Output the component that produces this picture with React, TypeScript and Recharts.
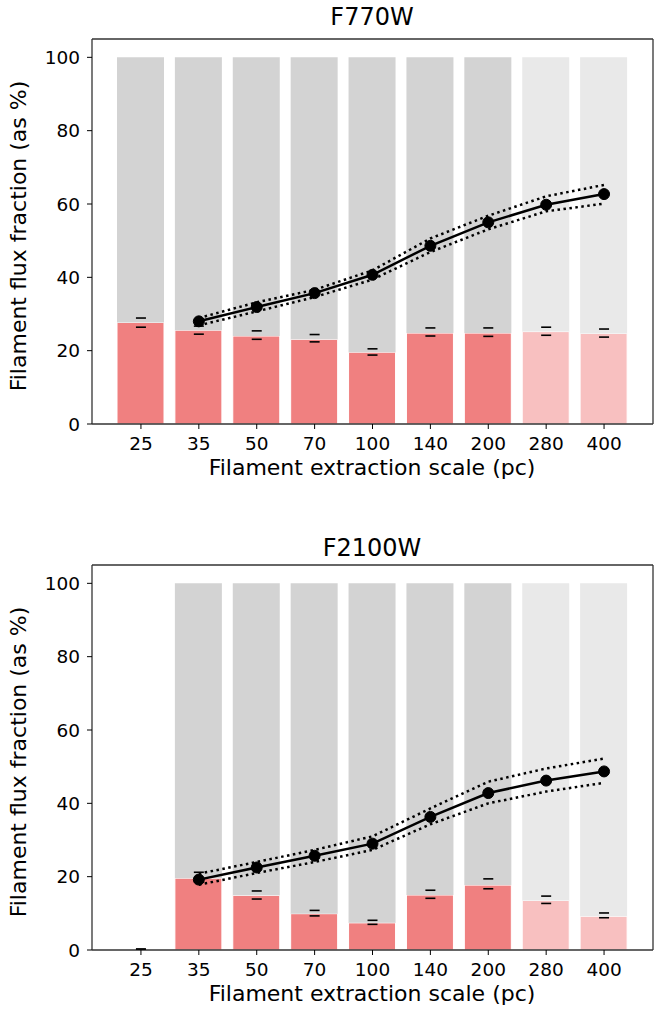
import {
  Bar,
  Cell,
  ComposedChart,
  Line,
  XAxis,
  YAxis
} from "recharts";

const scales = ["25", "35", "50", "70", "100", "140", "200", "280", "400"];
const faded = [false, false, false, false, false, false, false, true, true];
const yTicks = [0, 20, 40, 60, 80, 100];

// F770W
const f770Fil = [27.7, 25.6, 24.0, 23.1, 19.6, 24.8, 24.8, 25.2, 24.7];
const f770CapHi = [28.9, 26.7, 25.4, 24.4, 20.5, 26.2, 26.2, 26.4, 25.9];
const f770CapLo = [26.4, 24.5, 23.1, 22.4, 18.8, 24.0, 23.9, 24.2, 23.7];
const f770Mean = [null, 28.0, 31.9, 35.7, 40.7, 48.6, 55.0, 59.8, 62.7];
const f770Upper = [null, 28.9, 33.2, 36.6, 41.9, 50.6, 56.8, 62.1, 65.2];
const f770Lower = [null, 26.9, 30.7, 34.6, 39.4, 46.9, 53.1, 58.0, 60.1];

// F2100W
const f2100Fil = [0, 19.6, 14.9, 9.9, 7.4, 15.0, 17.7, 13.5, 9.2];
const f2100CapHi = [0.3, 21.2, 16.1, 10.8, 8.1, 16.3, 19.4, 14.7, 10.1];
const f2100CapLo = [0, 18.6, 13.9, 9.3, 7.0, 14.1, 16.7, 12.7, 8.8];
const f2100Mean = [null, 19.2, 22.5, 25.7, 29.0, 36.3, 42.8, 46.2, 48.7];
const f2100Upper = [null, 20.8, 24.0, 27.3, 31.0, 38.6, 45.9, 49.5, 52.2];
const f2100Lower = [null, 17.8, 21.0, 24.0, 27.3, 34.3, 40.0, 43.2, 45.6];

const FONT = "'DejaVu Sans', sans-serif";
const RED = "#f08080";
const PINK = "#f8c0c0";
const GREY = "#d3d3d3";
const LIGHT_GREY = "#e9e9e9";
const SPINE = { stroke: "#333", strokeWidth: 1.3 };

type Row = {
  scale: string;
  fil: number;
  rest: number | null;
  capHi: number;
  capLo: number;
  mean: number | null;
  upper: number | null;
  lower: number | null;
};

function buildRows(
  fil: number[],
  capHi: number[],
  capLo: number[],
  mean: (number | null)[],
  upper: (number | null)[],
  lower: (number | null)[]
): Row[] {
  return scales.map((scale, i) => ({
    scale,
    fil: fil[i],
    rest: mean[i] === null && fil[i] === 0 ? null : 100 - fil[i],
    capHi: capHi[i],
    capLo: capLo[i],
    mean: mean[i],
    upper: upper[i],
    lower: lower[i]
  }));
}

const renderCap = (props: any) => {
  const { cx, cy, index } = props;
  if (cx == null || cy == null) return <g key={`c-${index}`} />;
  return (
    <line
      key={`c-${index}`}
      x1={cx - 5}
      x2={cx + 5}
      y1={cy}
      y2={cy}
      stroke="#000"
      strokeWidth={1.6}
    />
  );
};

type PanelProps = {
  title: string;
  rows: Row[];
  top: number;
};

function Panel({ title, rows, top }: PanelProps) {
  const tick = { fontSize: 18.5, fill: "#000", fontFamily: FONT };
  return (
    <div style={{ position: "absolute", left: 0, top, width: 657, height: 500 }}>
      <div
        style={{
          position: "absolute",
          left: 372,
          top: title === "F770W" ? 17 : 22,
          transform: "translate(-50%, -50%)",
          fontFamily: FONT,
          fontSize: 24,
          whiteSpace: "nowrap"
        }}
      >
        {title}
      </div>
      <div
        style={{
          position: "absolute",
          left: 18,
          top: 236,
          transform: "translate(-50%, -50%) rotate(-90deg)",
          fontFamily: FONT,
          fontSize: 22,
          whiteSpace: "nowrap"
        }}
      >
        Filament flux fraction (as %)
      </div>
      <div
        style={{
          position: "absolute",
          left: 372,
          top: 468,
          transform: "translate(-50%, -50%)",
          fontFamily: FONT,
          fontSize: 22,
          lineHeight: "24px",
          whiteSpace: "nowrap"
        }}
      >
        Filament extraction scale (pc)
      </div>
      <ComposedChart
        width={657}
        height={500}
        data={rows}
        margin={{ top: 38, right: 3, left: 32, bottom: 46 }}
        barSize={47}
      >
        <XAxis
          dataKey="scale"
          padding={{ left: 20, right: 20 }}
          tick={tick}
          tickSize={5}
          tickMargin={8}
          tickLine={{ stroke: "#000" }}
          axisLine={SPINE}
          height={30}
        />
        <XAxis
          xAxisId="top"
          orientation="top"
          dataKey="scale"
          padding={{ left: 20, right: 20 }}
          tick={false}
          tickLine={false}
          axisLine={SPINE}
          height={1}
        />
        <YAxis
          domain={[0, 105]}
          ticks={yTicks}
          allowDataOverflow
          tick={tick}
          tickSize={5}
          tickMargin={7}
          tickLine={{ stroke: "#000" }}
          axisLine={SPINE}
          width={60}
        />
        <YAxis
          yAxisId="right"
          orientation="right"
          domain={[0, 105]}
          tick={false}
          tickLine={false}
          axisLine={SPINE}
          width={1}
        />
        <Bar dataKey="fil" stackId="a" stroke="#fff" strokeWidth={1} isAnimationActive={false}>
          {rows.map((r, i) => (
            <Cell key={r.scale} fill={faded[i] ? PINK : RED} />
          ))}
        </Bar>
        <Bar dataKey="rest" stackId="a" isAnimationActive={false}>
          {rows.map((r, i) => (
            <Cell key={r.scale} fill={faded[i] ? LIGHT_GREY : GREY} />
          ))}
        </Bar>
        <Line
          dataKey="capHi"
          stroke="none"
          dot={renderCap}
          activeDot={false}
          isAnimationActive={false}
        />
        <Line
          dataKey="capLo"
          stroke="none"
          dot={renderCap}
          activeDot={false}
          isAnimationActive={false}
        />
        <Line
          type="linear"
          dataKey="upper"
          stroke="#000"
          strokeWidth={2.5}
          strokeDasharray="2.5 3.5"
          dot={false}
          activeDot={false}
          isAnimationActive={false}
        />
        <Line
          type="linear"
          dataKey="lower"
          stroke="#000"
          strokeWidth={2.5}
          strokeDasharray="2.5 3.5"
          dot={false}
          activeDot={false}
          isAnimationActive={false}
        />
        <Line
          type="linear"
          dataKey="mean"
          stroke="#000"
          strokeWidth={2.5}
          dot={{ r: 5.5, fill: "#000", stroke: "#000", strokeWidth: 1 }}
          activeDot={false}
          isAnimationActive={false}
        />
      </ComposedChart>
    </div>
  );
}

export default function App() {
  const top = buildRows(f770Fil, f770CapHi, f770CapLo, f770Mean, f770Upper, f770Lower);
  const bottom = buildRows(f2100Fil, f2100CapHi, f2100CapLo, f2100Mean, f2100Upper, f2100Lower);
  return (
    <div style={{ position: "absolute", left: 0, top: 0, width: 657, height: 1013, background: "#fff" }}>
      <Panel title="F770W" rows={top} top={0} />
      <Panel title="F2100W" rows={bottom} top={526} />
    </div>
  );
}
